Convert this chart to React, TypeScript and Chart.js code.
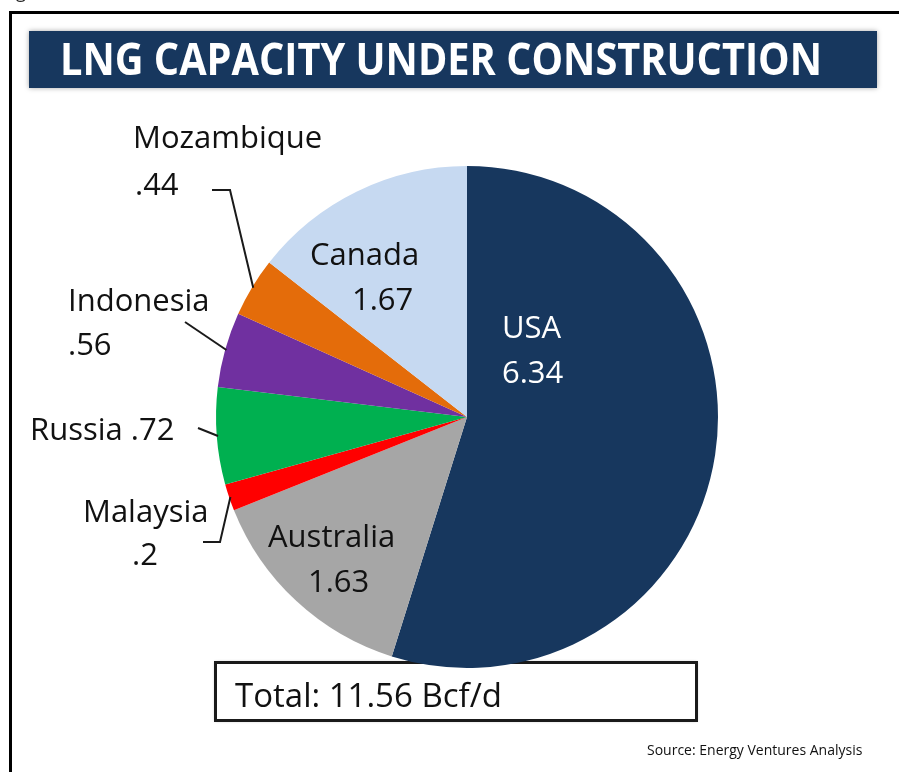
import React, { useEffect, useRef } from 'react';
import { Chart, registerables } from 'chart.js';

Chart.register(...registerables);

// ---- data ----
const categories = ['USA', 'Australia', 'Malaysia', 'Russia', 'Indonesia', 'Mozambique', 'Canada'];
const capacities = [6.34, 1.63, 0.2, 0.72, 0.56, 0.44, 1.67];
const sliceColors = ['#17375e', '#a6a6a6', '#ff0000', '#00b050', '#7030a0', '#e46c0a', '#c6d9f1'];
const titleText = 'LNG CAPACITY UNDER CONSTRUCTION';
const unitText = 'Bcf/d';
const sourceText = 'Source: Energy Ventures Analysis';

// ---- layout (annotation placement) ----
type LabelLayout = { lines: [number, number][]; color: string; single?: boolean };
const labelLayout: Record<string, LabelLayout> = {
  USA: { lines: [[502, 338], [502, 383]], color: '#ffffff' },
  Australia: { lines: [[268, 547], [308, 592]], color: '#111111' },
  Malaysia: { lines: [[83, 522], [132, 565]], color: '#111111' },
  Russia: { lines: [[30, 440]], color: '#111111', single: true },
  Indonesia: { lines: [[68, 311], [68, 355]], color: '#111111' },
  Mozambique: { lines: [[133, 148], [135, 195]], color: '#111111' },
  Canada: { lines: [[310, 265], [352, 310]], color: '#111111' },
};
const leaderLayout: Record<string, [number, number][]> = {
  Mozambique: [[212, 190], [230, 190]],
  Indonesia: [[185, 322]],
  Russia: [[198, 428]],
  Malaysia: [[203, 542], [220, 542]],
};

const fmt = (v: number) => String(v).replace(/^0(?=\.)/, '');
const LABEL_FONT = '31px "Open Sans", "DejaVu Sans", sans-serif';

const decorPlugin = {
  id: 'decor',
  beforeDraw(chart: any) {
    const ctx: CanvasRenderingContext2D = chart.ctx;
    ctx.save();
    ctx.fillStyle = '#ffffff';
    ctx.fillRect(0, 0, chart.width, chart.height);
    // tiny cut-off glyph at top-left
    ctx.fillStyle = '#222';
    ctx.font = '18px "Open Sans", sans-serif';
    ctx.textBaseline = 'alphabetic';
    ctx.fillText('g', 16, -2);
    // outer frame: top and left edges only (the rest lies off the page)
    ctx.fillStyle = '#000000';
    ctx.fillRect(9, 11, 3, chart.height - 11);
    ctx.fillRect(9, 11, chart.width - 9, 3);
    // title banner
    ctx.shadowColor = 'rgba(0,0,0,0.35)';
    ctx.shadowBlur = 5;
    ctx.fillStyle = '#17375e';
    ctx.fillRect(29, 31, 848, 57);
    ctx.shadowBlur = 0;
    ctx.shadowColor = 'transparent';
    ctx.fillStyle = '#ffffff';
    ctx.font = 'bold 44px "Open Sans", "DejaVu Sans", sans-serif';
    const w = ctx.measureText(titleText).width;
    const target = 762;
    ctx.translate(60, 75);
    ctx.scale(target / w, 1);
    ctx.fillText(titleText, 0, 0);
    ctx.restore();
  },
  beforeDatasetsDraw(chart: any) {
    const ctx: CanvasRenderingContext2D = chart.ctx;
    ctx.save();
    // total box (sits under the pie)
    ctx.shadowColor = 'rgba(0,0,0,0.3)';
    ctx.shadowBlur = 3;
    ctx.fillStyle = '#ffffff';
    ctx.fillRect(215, 662, 482, 59);
    ctx.shadowBlur = 0;
    ctx.shadowColor = 'transparent';
    ctx.strokeStyle = '#1a1a1a';
    ctx.lineWidth = 3;
    ctx.strokeRect(215.5, 662.5, 481, 58);
    ctx.restore();
  },
  afterDatasetsDraw(chart: any) {
    const ctx: CanvasRenderingContext2D = chart.ctx;
    const meta = chart.getDatasetMeta(0);
    ctx.save();
    // leader lines
    ctx.strokeStyle = '#1a1a1a';
    ctx.lineWidth = 2;
    categories.forEach((cat, i) => {
      const pts = leaderLayout[cat];
      if (!pts) return;
      const arc: any = meta.data[i];
      const a = (arc.startAngle + arc.endAngle) / 2;
      const r = arc.outerRadius * 0.995;
      const ex = arc.x + Math.cos(a) * r;
      const ey = arc.y + Math.sin(a) * r;
      ctx.beginPath();
      ctx.moveTo(pts[0][0], pts[0][1]);
      for (let k = 1; k < pts.length; k++) ctx.lineTo(pts[k][0], pts[k][1]);
      ctx.lineTo(ex, ey);
      ctx.stroke();
    });
    // slice labels
    ctx.font = LABEL_FONT;
    ctx.textBaseline = 'alphabetic';
    ctx.textAlign = 'left';
    categories.forEach((cat, i) => {
      const lay = labelLayout[cat];
      if (!lay) return;
      ctx.fillStyle = lay.color;
      const val = fmt(capacities[i]);
      if (lay.single) {
        ctx.fillText(cat + ' ' + val, lay.lines[0][0], lay.lines[0][1]);
      } else {
        ctx.fillText(cat, lay.lines[0][0], lay.lines[0][1]);
        ctx.fillText(val, lay.lines[1][0], lay.lines[1][1]);
      }
    });
    // total text
    const total = capacities.reduce((s, v) => s + v, 0);
    ctx.fillStyle = '#111111';
    ctx.font = '33px "Open Sans", "DejaVu Sans", sans-serif';
    ctx.fillText('Total: ' + total.toFixed(2) + ' ' + unitText, 235, 707);
    // source
    ctx.font = '14px "Open Sans", "DejaVu Sans", sans-serif';
    ctx.fillStyle = '#111111';
    ctx.fillText(sourceText, 647, 755);
    ctx.restore();
  },
};

export default function App() {
  const canvasRef = useRef<HTMLCanvasElement | null>(null);

  useEffect(() => {
    document.body.style.margin = '0';
    document.body.style.overflow = 'hidden';
    const canvas = canvasRef.current;
    if (!canvas) return;
    const chart = new Chart(canvas, {
      type: 'pie',
      data: {
        labels: categories,
        datasets: [
          {
            data: capacities,
            backgroundColor: sliceColors,
            borderWidth: 0,
          },
        ],
      },
      options: {
        responsive: false,
        animation: false,
        devicePixelRatio: 1,
        rotation: 0,
        layout: { padding: { left: 216, top: 166, right: 181, bottom: 104 } },
        plugins: {
          legend: { display: false },
          tooltip: { enabled: false },
          title: { display: false },
        },
      },
      plugins: [decorPlugin],
    });
    return () => chart.destroy();
  }, []);

  return (
    <canvas
      ref={canvasRef}
      width={899}
      height={772}
      style={{ display: 'block', width: 899, height: 772 }}
    />
  );
}
